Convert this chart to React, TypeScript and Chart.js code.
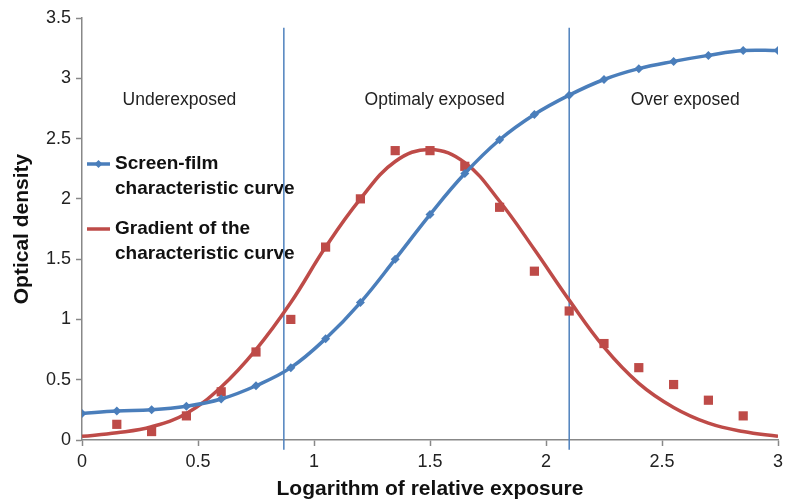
import React, { useEffect, useRef } from "react";
import { Chart, registerables } from "chart.js";

Chart.register(...registerables);

const xValues = [0, 0.15, 0.3, 0.45, 0.6, 0.75, 0.9, 1.05, 1.2, 1.35, 1.5, 1.65, 1.8, 1.95, 2.1, 2.25, 2.4, 2.55, 2.7, 2.85, 3.0];
const screenFilm = [0.22, 0.24, 0.25, 0.28, 0.34, 0.45, 0.6, 0.84, 1.14, 1.5, 1.87, 2.21, 2.49, 2.7, 2.86, 2.99, 3.08, 3.14, 3.19, 3.23, 3.23];
const gradientX = [0.15, 0.3, 0.45, 0.6, 0.75, 0.9, 1.05, 1.2, 1.35, 1.5, 1.65, 1.8, 1.95, 2.1, 2.25, 2.4, 2.55, 2.7, 2.85];
const gradientPoints = [0.13, 0.07, 0.2, 0.4, 0.73, 1.0, 1.6, 2.0, 2.4, 2.4, 2.27, 1.93, 1.4, 1.07, 0.8, 0.6, 0.46, 0.33, 0.2];
const gradientFit = [0.03, 0.06, 0.11, 0.22, 0.44, 0.75, 1.14, 1.6, 2.0, 2.31, 2.41, 2.3, 1.98, 1.58, 1.16, 0.77, 0.47, 0.27, 0.14, 0.07, 0.03];
const boundaries = [0.87, 2.1];
const boundaryRange = [-0.08, 3.42];
const regionLabels = ["Underexposed", "Optimaly exposed", "Over exposed"];
const regionLabelX = [0.42, 1.52, 2.6];
const regionLabelY = 2.82;
const legendLabels = [["Screen-film", "characteristic curve"], ["Gradient of the", "characteristic curve"]];
const xTicks = [0, 0.5, 1, 1.5, 2, 2.5, 3];
const yTicks = [0, 0.5, 1, 1.5, 2, 2.5, 3, 3.5];

const BLUE = "#4A7EBB";
const RED = "#BE4B48";
const VBLUE = "#4F81BD";
const FONT = "'Liberation Sans', Arial, Helvetica, sans-serif";

const textPlugin = {
  id: "textPlugin",
  beforeDatasetsDraw(chart: any) {
    const ctx = chart.ctx;
    const xs = chart.scales.x;
    const ys = chart.scales.y;
    ctx.save();
    ctx.fillStyle = "#222";
    ctx.font = `17.5px ${FONT}`;
    ctx.textAlign = "center";
    ctx.textBaseline = "middle";
    regionLabels.forEach((t, i) => {
      ctx.fillText(t, xs.getPixelForValue(regionLabelX[i]), ys.getPixelForValue(regionLabelY));
    });
    const colors = [BLUE, RED];
    const rowY = [164, 229];
    ctx.font = `bold 19px ${FONT}`;
    ctx.textAlign = "left";
    legendLabels.forEach((lines, i) => {
      const y = rowY[i];
      ctx.strokeStyle = colors[i];
      ctx.lineWidth = 3.5;
      ctx.beginPath();
      ctx.moveTo(87, y);
      ctx.lineTo(110, y);
      ctx.stroke();
      if (i === 0) {
        ctx.fillStyle = colors[i];
        ctx.beginPath();
        ctx.moveTo(98.5, y - 4);
        ctx.lineTo(102.5, y);
        ctx.lineTo(98.5, y + 4);
        ctx.lineTo(94.5, y);
        ctx.closePath();
        ctx.fill();
      }
      ctx.fillStyle = "#111";
      lines.forEach((l, j) => ctx.fillText(l, 115, y + j * 24.5));
    });
    ctx.restore();
  },
};

export default function App() {
  const ref = useRef<HTMLCanvasElement | null>(null);
  useEffect(() => {
    if (!ref.current) return;
    const chart = new Chart(ref.current, {
      type: "scatter",
      data: {
        datasets: [
          {
            label: "Screen-film characteristic curve",
            data: xValues.map((x, i) => ({ x, y: screenFilm[i] })),
            showLine: true,
            borderColor: BLUE,
            backgroundColor: BLUE,
            borderWidth: 3.5,
            pointStyle: "rectRot",
            pointRadius: 4.5,
            pointBorderWidth: 0,
            tension: 0.4,
          },
          {
            label: "Gradient points",
            data: gradientX.map((x, i) => ({ x, y: gradientPoints[i] })),
            showLine: false,
            borderColor: RED,
            backgroundColor: RED,
            pointStyle: "rect",
            pointRadius: 6.5,
            pointBorderWidth: 0,
          },
          {
            label: "Gradient of the characteristic curve",
            data: xValues.map((x, i) => ({ x, y: gradientFit[i] })),
            showLine: true,
            borderColor: RED,
            backgroundColor: RED,
            borderWidth: 3.5,
            pointRadius: 0,
            tension: 0.4,
          },
          ...boundaries.map((b) => ({
            label: "boundary",
            data: boundaryRange.map((y) => ({ x: b, y })),
            showLine: true,
            borderColor: VBLUE,
            backgroundColor: VBLUE,
            borderWidth: 1.5,
            pointRadius: 0,
            clip: false as any,
          })),
        ],
      },
      options: {
        responsive: false,
        animation: false,
        devicePixelRatio: 1,
        layout: { padding: { top: 18, right: 7, left: 0, bottom: 0 } },
        plugins: { legend: { display: false }, tooltip: { enabled: false } },
        scales: {
          x: {
            type: "linear",
            min: 0,
            max: 3,
            afterFit: (s: any) => { s.height = 60; s.paddingRight = 0; s.paddingLeft = 0; },
            afterBuildTicks: (s: any) => { s.ticks = xTicks.map((v) => ({ value: v })); },
            grid: { display: true, drawOnChartArea: false, drawTicks: true, tickLength: 6, tickColor: "#888", tickWidth: 1.5 },
            border: { display: true, color: "#888", width: 1.5 },
            ticks: { color: "#222", font: { family: FONT, size: 18 }, padding: 5, maxRotation: 0, callback: (v: any) => String(v) },
            title: { display: true, text: "Logarithm of relative exposure", color: "#111", font: { family: FONT, size: 21, weight: "bold", lineHeight: 1 }, padding: { top: 0, bottom: 0 } },
          },
          y: {
            type: "linear",
            min: 0,
            max: 3.5,
            afterFit: (s: any) => { s.width = 82; s.paddingTop = 0; s.paddingBottom = 0; },
            afterBuildTicks: (s: any) => { s.ticks = yTicks.map((v) => ({ value: v })); },
            grid: { display: true, drawOnChartArea: false, drawTicks: true, tickLength: 6, tickColor: "#888", tickWidth: 1.5 },
            border: { display: true, color: "#888", width: 1.5 },
            ticks: { color: "#222", font: { family: FONT, size: 18 }, padding: 5, callback: (v: any) => String(v) },
            title: { display: true, text: "Optical density", color: "#111", font: { family: FONT, size: 21, weight: "bold", lineHeight: 1 }, padding: { top: 12, bottom: 0 } },
          },
        },
      },
      plugins: [textPlugin],
    });
    return () => chart.destroy();
  }, []);
  return (
    <div style={{ position: "absolute", left: 0, top: 0, width: 785, height: 500, background: "#fff" }}>
      <canvas ref={ref} width={785} height={500} style={{ display: "block" }} />
    </div>
  );
}
